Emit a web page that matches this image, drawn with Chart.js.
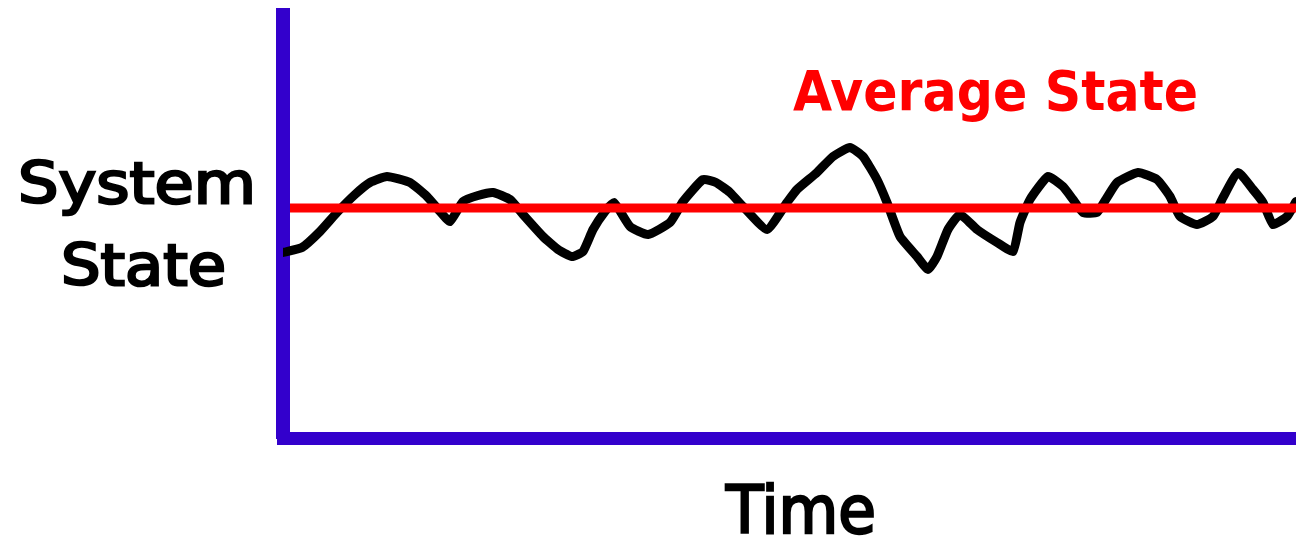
<!DOCTYPE html>
<html>
<head>
<meta charset="utf-8">
<script src="https://cdn.jsdelivr.net/npm/chart.js@4"></script>
<style>
  html, body { margin: 0; padding: 0; background: #fff; }
  #wrap { width: 1296px; height: 541px; }
</style>
</head>
<body>
<div id="wrap"><canvas id="grafica" width="1296" height="541"></canvas></div>
<script>
// Datos (tiempo y estado del sistema)
const tiempo = [0, 19, 37, 54, 72, 87, 104, 127, 144, 157, 167, 180, 195, 210, 227, 240, 260, 275, 289, 300, 310, 322, 331,
  347, 365, 387, 400, 420, 433, 447, 460, 484, 504, 514, 534, 550, 567, 580, 594, 604, 617, 634, 645, 654, 665, 677,
  694, 714, 730, 737, 747, 765, 780, 790, 800, 814, 824, 834, 855, 874, 887, 897, 914, 930, 940, 955, 970, 980, 990, 1004, 1013];
const estado = [186, 191, 207, 226, 244, 256, 262, 256, 242, 227, 217, 237, 243, 246, 239, 224, 202, 189, 182, 187, 209, 227, 236,
  212, 204, 216, 237, 259, 256, 246, 232, 209, 236, 249, 266, 282, 291, 282, 259, 236, 202, 182, 169, 182, 209, 224,
  209, 196, 187, 216, 239, 262, 252, 239, 226, 226, 241, 256, 266, 259, 242, 222, 214, 222, 241, 266, 249, 236, 214, 222, 237];
const estadoPromedio = [230.5, 230.5];
const tiempoPromedio = [7, 1013];

const etiquetaY = ["System", "State"];
const etiquetaX = "Time";
const etiquetaPromedio = "Average State";

// Dibuja un texto ajustado a un ancho dado (con un trazo opcional para engrosarlo)
function textoAjustado(ctx, texto, izq, der, base, fuente, color, trazo) {
    ctx.save();
    ctx.font = fuente;
    ctx.fillStyle = color;
    ctx.strokeStyle = color;
    ctx.textBaseline = "alphabetic";
    const w = ctx.measureText(texto).width;
    ctx.translate(izq, base);
    ctx.scale((der - izq) / w, 1);
    ctx.fillText(texto, 0, 0);
    if (trazo) {
        ctx.lineWidth = trazo;
        ctx.strokeText(texto, 0, 0);
    }
    ctx.restore();
}

const textos = {
    id: "textos",
    afterDraw(chart) {
        const ctx = chart.ctx;
        textoAjustado(ctx, etiquetaY[0], 18, 256, 203, "57px 'DejaVu Sans'", "#000", 2.5);
        textoAjustado(ctx, etiquetaY[1], 61, 226, 285, "57px 'DejaVu Sans'", "#000", 2.5);
        textoAjustado(ctx, etiquetaX, 726, 876, 533, "66px 'DejaVu Sans'", "#000", 2.5);
        textoAjustado(ctx, etiquetaPromedio, 793, 1198, 110, "bold 55px 'DejaVu Sans'", "#ff0000", 0);
    }
};

const ctx = document.getElementById("grafica").getContext("2d");

const chart = new Chart(ctx, {
    type: "line",
    data: {
        datasets: [
            {
                label: "Average State",
                data: tiempoPromedio.map((x, i) => ({ x, y: estadoPromedio[i] })),
                borderColor: "#ff0000",
                borderWidth: 9,
                pointRadius: 0,
                order: 0,
            },
            {
                label: "System State",
                data: tiempo.map((x, i) => ({ x, y: estado[i] })),
                borderColor: "#000000",
                borderWidth: 9,
                borderJoinStyle: "round",
                borderCapStyle: "round",
                pointRadius: 0,
                tension: 0.15,
                order: 1,
            },
        ],
    },
    options: {
        responsive: false,
        animation: false,
        events: [],
        layout: { padding: { left: 283, top: 15, right: 0, bottom: 102.5 } },
        plugins: { legend: { display: false }, tooltip: { enabled: false } },
        scales: {
            x: {
                type: "linear",
                min: 0,
                max: 1013,
                z: 1,
                grid: { display: false, drawTicks: false },
                ticks: { display: false },
                border: { display: true, color: "#3300cc", width: 13 },
            },
            y: {
                type: "linear",
                min: 0,
                max: 423.5,
                z: 1,
                grid: { display: false, drawTicks: false },
                ticks: { display: false },
                border: { display: true, color: "#3300cc", width: 14 },
            },
        },
    },
    plugins: [textos],
});
</script>
</body>
</html>
